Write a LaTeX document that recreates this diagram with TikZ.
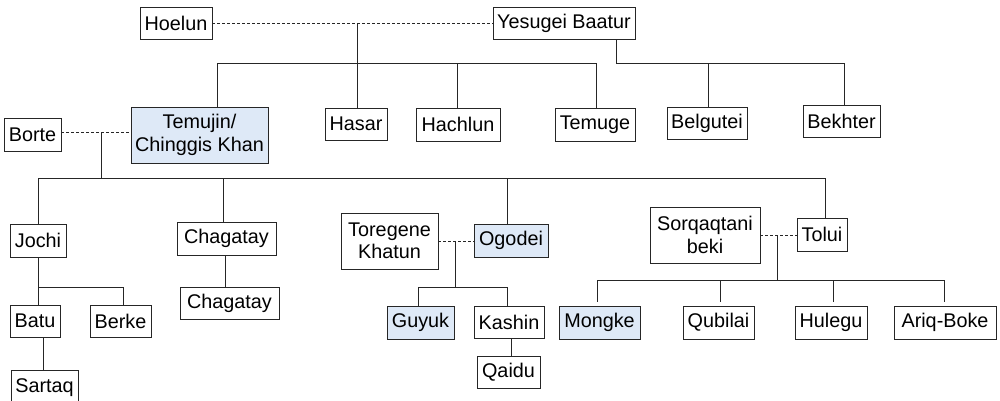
\documentclass[tikz,border=0pt]{standalone}
\usepackage{fontspec}
\setmainfont{Liberation Sans}
\begin{document}
\begin{tikzpicture}[x=1pt,y=-1pt,
  box/.style={draw=black!85, line width=0.9pt, rectangle, inner sep=0pt, align=center,
    font=\fontsize{19.8}{22.5}\selectfont, text=black},
  hl/.style={box, fill={rgb,255:red,222;green,233;blue,247}},
  ln/.style={draw=black!85, line width=0.9pt},
  dl/.style={ln, dashed, dash pattern=on 3pt off 2pt}]
\useasboundingbox (0,0) rectangle (1000,400);
\clip (0,0) rectangle (1000,400);
% generation 1
\node[box, minimum width=72pt, minimum height=32pt] (hoelun) at (176,23) {Hoelun};
\node[box, minimum width=142pt, minimum height=32pt] (yesugei) at (564,23) {Yesugei Baatur};
% generation 2
\node[hl, minimum width=137pt, minimum height=56pt] (temujin) at (199.5,135) {Temujin/\\Chinggis Khan};
\node[box, minimum width=62pt, minimum height=32pt] (hasar) at (356,124) {Hasar};
\node[box, minimum width=84pt, minimum height=33pt] (hachlun) at (458,124.5) {Hachlun};
\node[box, minimum width=80pt, minimum height=33pt] (temuge) at (595,124.5) {Temuge};
\node[box, minimum width=80pt, minimum height=32pt] (belgutei) at (707,123) {Belgutei};
\node[box, minimum width=77pt, minimum height=32pt] (bekhter) at (841.5,121) {Bekhter};
\node[box, minimum width=57pt, minimum height=33pt] (borte) at (32.5,134.5) {Borte};
% generation 3
\node[box, minimum width=56pt, minimum height=33pt] (jochi) at (38,240.5) {Jochi};
\node[box, minimum width=99pt, minimum height=33pt] (chagatay) at (226.5,238.5) {Chagatay};
\node[box, minimum width=97pt, minimum height=56pt] (toregene) at (389.5,241) {Toregene\\Khatun};
\node[hl, minimum width=74pt, minimum height=33pt] (ogodei) at (511,240.5) {Ogodei};
\node[box, minimum width=110pt, minimum height=56pt] (sorqaqtani) at (705,235) {Sorqaqtani\\beki};
\node[box, minimum width=50pt, minimum height=33pt] (tolui) at (822,234.5) {Tolui};
% generation 4
\node[box, minimum width=99pt, minimum height=32pt] (chagatayb) at (229.5,303) {Chagatay};
\node[box, minimum width=50pt, minimum height=32pt] (batu) at (35,321) {Batu};
\node[box, minimum width=61pt, minimum height=32pt] (berke) at (120.5,321) {Berke};
\node[hl, minimum width=67pt, minimum height=33pt] (guyuk) at (420.5,322.5) {Guyuk};
\node[box, minimum width=70pt, minimum height=32pt] (kashin) at (509,322) {Kashin};
\node[hl, minimum width=81pt, minimum height=33pt] (mongke) at (599.5,322.5) {Mongke};
\node[box, minimum width=71pt, minimum height=33pt] (qubilai) at (718.5,322.5) {Qubilai};
\node[box, minimum width=72pt, minimum height=33pt] (hulegu) at (831,322.5) {Hulegu};
\node[box, minimum width=102pt, minimum height=33pt] (ariq) at (945,322.5) {Ariq-Boke};
% generation 5
\node[box, minimum width=67pt, minimum height=36pt] (sartaq) at (44.5,388) {Sartaq};
\node[box, minimum width=63pt, minimum height=32pt] (qaidu) at (508.5,372) {Qaidu};

% junction coordinates
\coordinate (m1) at (357,23);
\coordinate (h1) at (357,63);
\coordinate (h1l) at (217,63);
\coordinate (h1r) at (597,63);
\coordinate (y1) at (616,39);
\coordinate (y2) at (616,63);
\coordinate (y2r) at (845,63);
\coordinate (m2) at (101,132);
\coordinate (h2) at (101,178);
\coordinate (h2l) at (38,178);
\coordinate (h2r) at (825,178);
\coordinate (j1) at (38,287);
\coordinate (j1r) at (123,287);
\coordinate (m3) at (455,241);
\coordinate (h3) at (455,287);
\coordinate (h3l) at (418,287);
\coordinate (h3r) at (507,287);
\coordinate (m4) at (777,235);
\coordinate (h4) at (777,280);
\coordinate (h4l) at (597,280);
\coordinate (h4r) at (944,280);

% Hoelun -- Yesugei
\draw[dl] (hoelun.east) -- (yesugei.west);
\draw[ln] (m1) -- (h1);
\draw[ln] (h1l) -- (h1r);
\draw[ln] (h1l) -- (h1l |- temujin.north);
\draw[ln] (h1) -- (h1 |- hasar.north);
\draw[ln] (457,63) -- (457,0 |- hachlun.north);
\draw[ln] (596,63) -- (596,0 |- temuge.north);
\draw[ln] (y1) -- (y2) -- (y2r);
\draw[ln] (708,63) -- (708,0 |- belgutei.north);
\draw[ln] (844,63) -- (844,0 |- bekhter.north);

% Borte -- Temujin
\draw[dl] (borte.east |- m2) -- (temujin.west |- m2);
\draw[ln] (m2) -- (h2);
\draw[ln] (h2l) -- (h2r);
\draw[ln] (h2l) -- (jochi.north);
\draw[ln] (223,178) -- (223,0 |- chagatay.north);
\draw[ln] (507,178) -- (507,0 |- ogodei.north);
\draw[ln] (h2r) -- (h2r |- tolui.north);
\draw[ln] (225,0 |- chagatay.south) -- (225,0 |- chagatayb.north);

% Jochi's sons
\draw[ln] (jochi.south) -- (j1) -- (j1r);
\draw[ln] (j1) -- (j1 |- batu.north);
\draw[ln] (j1r) -- (j1r |- berke.north);
\draw[ln] (43,0 |- batu.south) -- (43,0 |- sartaq.north);

% Toregene -- Ogodei
\draw[dl] (toregene.east |- m3) -- (ogodei.west |- m3);
\draw[ln] (m3) -- (h3);
\draw[ln] (h3l) -- (h3r);
\draw[ln] (h3l) -- (h3l |- guyuk.north);
\draw[ln] (h3r) -- (h3r |- kashin.north);
\draw[ln] (511,0 |- kashin.south) -- (511,0 |- qaidu.north);

% Sorqaqtani -- Tolui
\draw[dl] (sorqaqtani.east |- m4) -- (tolui.west |- m4);
\draw[ln] (m4) -- (h4);
\draw[ln] (h4l) -- (h4r);
\draw[ln] (h4l) -- ([yshift=4pt]h4l |- mongke.north);
\draw[ln] (720,280) -- ([yshift=4pt]720,0 |- qubilai.north);
\draw[ln] (833,280) -- ([yshift=4pt]833,0 |- hulegu.north);
\draw[ln] (h4r) -- ([yshift=4pt]h4r |- ariq.north);
\end{tikzpicture}
\end{document}
